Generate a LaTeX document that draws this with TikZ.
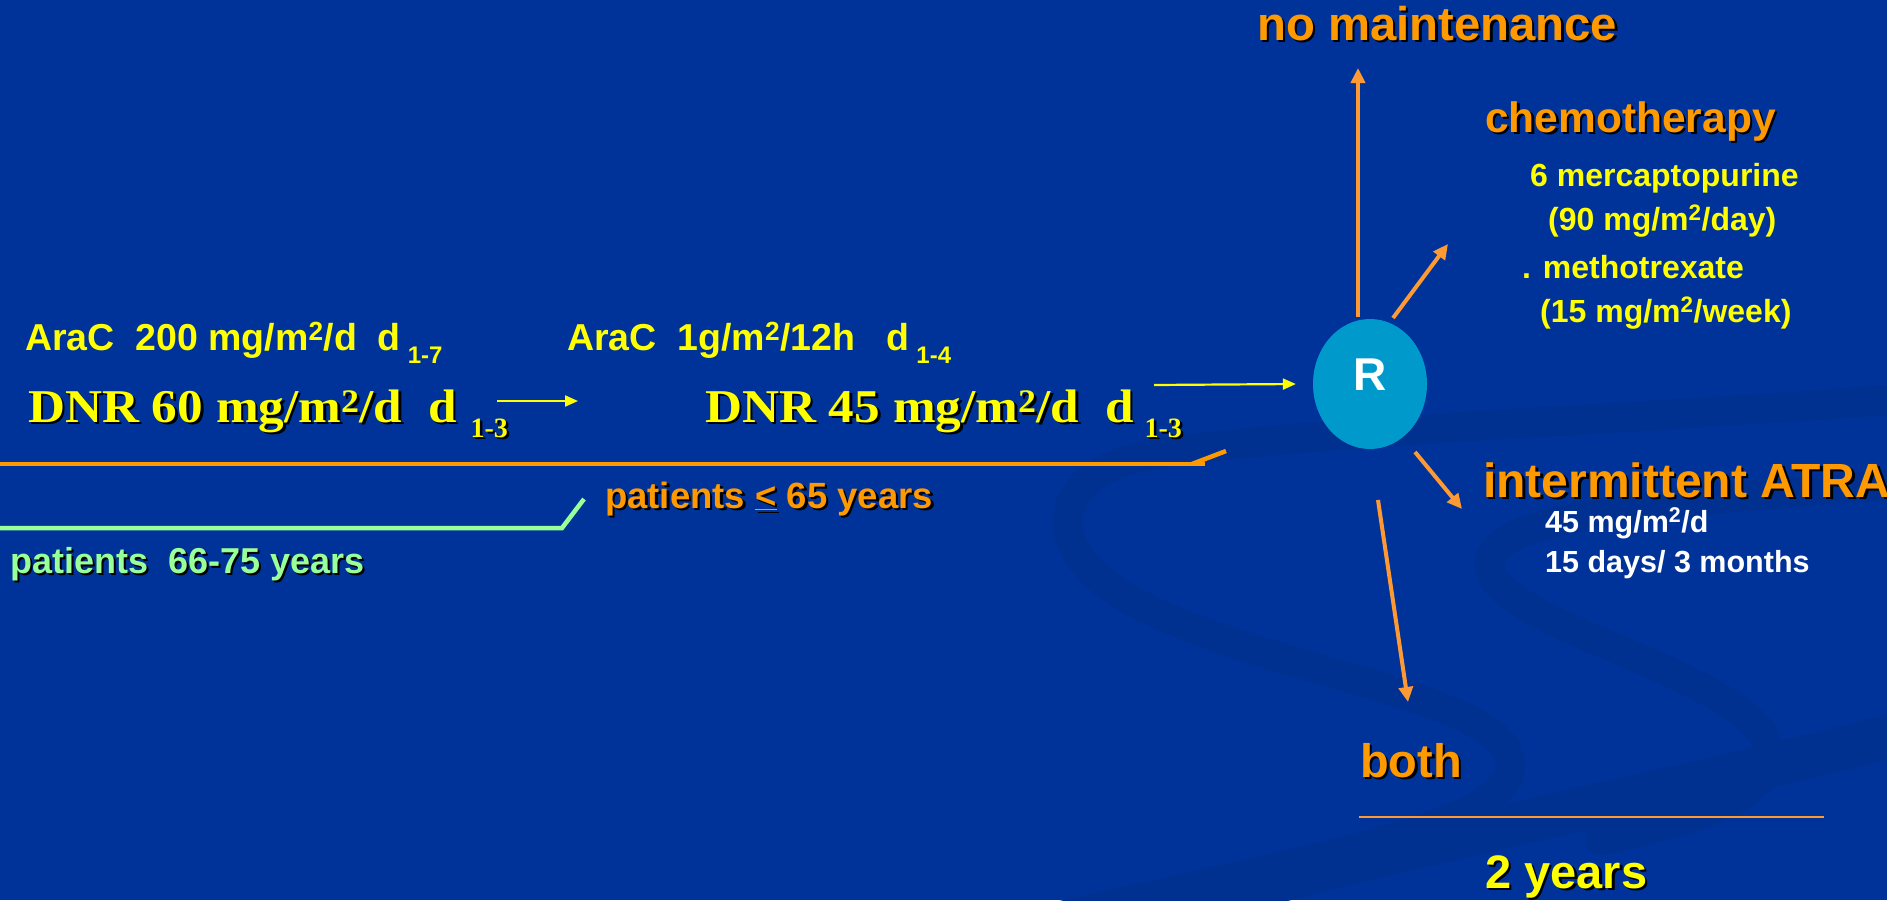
\documentclass[tikz,border=0pt]{standalone}
\usepackage{fontspec}
\usepackage{graphicx}
\setmainfont{Liberation Sans}
\newfontfamily\serifb{Liberation Serif}
\usetikzlibrary{arrows.meta,shapes.geometric}
\definecolor{bg}{HTML}{003399}
\definecolor{bgd}{HTML}{003090}
\definecolor{orng}{HTML}{FF9900}
\definecolor{oarr}{HTML}{FF9933}
\definecolor{yel}{HTML}{FFFF00}
\definecolor{grn}{HTML}{99FF99}
\definecolor{rcirc}{HTML}{0099CC}
\definecolor{shdc}{HTML}{000000}
\newcommand\fs[1]{\fontsize{#1}{#1}\selectfont}
\newcommand\shd[2]{\makebox[0pt][l]{\hspace{2.5pt}\raisebox{-2.5pt}{\color{shdc}#2}}{\color{#1}#2}}
\tikzset{
  txt/.style={inner sep=0pt, anchor=base west, font=\bfseries},
  yarrow/.style={draw=yel, line width=2.2pt, -{Triangle[length=13pt,width=11pt]}},
  oarrow/.style={draw=oarr, line width=4pt, -{Triangle[length=15pt,width=14pt]}},
  oline/.style={draw=orng, line width=4.5pt},
  gline/.style={draw=grn, line width=4.5pt},
  swoosh/.style={draw=bgd, line width=30pt, line cap=round},
}
\begin{document}
\begin{tikzpicture}[x=1pt,y=-1pt]
\useasboundingbox (0,0) rectangle (1887,900);
\fill[bg] (0,0) rectangle (1887,900);
% background swooshes
\begin{scope}
\clip (0,0) rectangle (1887,900);
\draw[swoosh] (1950,395) .. controls (1650,420) and (1300,430) .. (1150,455) .. controls (1040,475) and (1040,560) .. (1150,610) .. controls (1300,680) and (1520,700) .. (1510,770) .. controls (1500,830) and (1300,860) .. (1000,930);
\draw[swoosh] (1950,480) .. controls (1700,500) and (1500,510) .. (1490,560) .. controls (1480,620) and (1700,660) .. (1760,730) .. controls (1800,790) and (1700,820) .. (1600,840);
\draw[swoosh, line width=44pt] (1100,930) .. controls (1400,840) and (1700,790) .. (1950,720);
\end{scope}
% left side texts
\node[txt] (arac1) at (25,350) {\fs{37.5}\color{yel}AraC\ \ 200 mg/m\textsuperscript{2}/d\ \ d\hspace{7pt}\raisebox{-13pt}{\fs{24}1-7}};
\node[txt] (arac2) at (567,350) {\fs{37.5}\color{yel}AraC\ \ 1g/m\textsuperscript{2}/12h\ \ \ d\hspace{7pt}\raisebox{-13pt}{\fs{24}1-4}};
\node[txt] (dnr1) at (28,422) {\serifb\fs{47}\scalebox{1.09}[1]{\shd{yel}{DNR 60 mg/m\textsuperscript{2}/d\ \ d}}\hspace{14pt}\raisebox{-15pt}{\shd{yel}{\fs{28}1-3}}};
\node[txt] (dnr2) at (705,422) {\serifb\fs{47}\scalebox{1.09}[1]{\shd{yel}{DNR 45 mg/m\textsuperscript{2}/d\ \ d}}\hspace{11pt}\raisebox{-15pt}{\shd{yel}{\fs{28}1-3}}};
\coordinate (y1s) at (497,401);
\coordinate (y1e) at (578,401);
\coordinate (y2s) at (1154,385);
\draw[yarrow] (y1s) -- (y1e);
% lines
\coordinate (o1) at (0,464);
\coordinate (o2) at (1205,464);
\coordinate (o3) at (1192,464);
\coordinate (o4) at (1226,451);
\draw[oline] (o1) -- (o2);
\draw[oline] (o3) -- (o4);
\coordinate (g1) at (0,528);
\coordinate (g2) at (562,528);
\coordinate (g3) at (584,499);
\draw[gline] (g1) -- (g2) -- (g3);
\node[txt] (pt65) at (605,508) {\fs{36.5}\shd{orng}{patients \underline{<} 65 years}};
\node[txt] (pt66) at (10,573) {\fs{36}\shd{grn}{patients\ \ 66-75 years}};
% R
\node[ellipse, fill=rcirc, minimum width=114pt, minimum height=130pt, inner sep=0pt] (R) at (1370,384) {};
\node[inner sep=0pt, font=\bfseries\fs{46}, text=white] (Rl) at ([yshift=9pt]R.center) {R};
\draw[yarrow] (y2s) -- ([xshift=-17pt]R.west);
% arrows from R
\coordinate (u1) at (1358,317);
\coordinate (u2) at (1358,68);
\coordinate (c1) at (1393,318);
\coordinate (c2) at (1448,244);
\coordinate (a1) at (1415,452);
\coordinate (a2) at (1462,509);
\coordinate (b1) at (1378,500);
\coordinate (b2) at (1408,702);
\draw[oarrow] (u1) -- (u2);
\draw[oarrow] (c1) -- (c2);
\draw[oarrow] (a1) -- (a2);
\draw[oarrow] (b1) -- (b2);
% right side texts
\node[txt] (nomaint) at (1257,40) {\fs{47.3}\shd{orng}{no maintenance}};
\node[txt] (chemo) at (1485,132) {\fs{42.5}\shd{orng}{chemotherapy}};
\node[txt] (merc) at (1530,186) {\fs{32}\color{yel}6 mercaptopurine};
\node[txt] (merc2) at (1548,230) {\fs{32}\color{yel}(90 mg/m\textsuperscript{2}/day)};
\node[txt] (mtx) at (1522,278) {\fs{32}\color{yel}. methotrexate};
\node[txt] (mtx2) at (1540,322) {\fs{32}\color{yel}(15 mg/m\textsuperscript{2}/week)};
\node[txt] (atra) at (1483,497) {\fs{48}\shd{orng}{intermittent ATRA}};
\node[txt] (atra1) at (1545,532) {\fs{30.5}\color{white}45 mg/m\textsuperscript{2}/d};
\node[txt] (atra2) at (1545,572) {\fs{30.5}\color{white}15 days/ 3 months};
\node[txt] (both) at (1360,777) {\fs{47}\shd{orng}{both}};
\coordinate (l1) at (1359,817);
\coordinate (l2) at (1824,817);
\draw[draw=oarr, line width=2.5pt] (l1) -- (l2);
\node[txt] (twoy) at (1485,888) {\fs{47}\shd{yel}{2 years}};
\end{tikzpicture}
\end{document}
